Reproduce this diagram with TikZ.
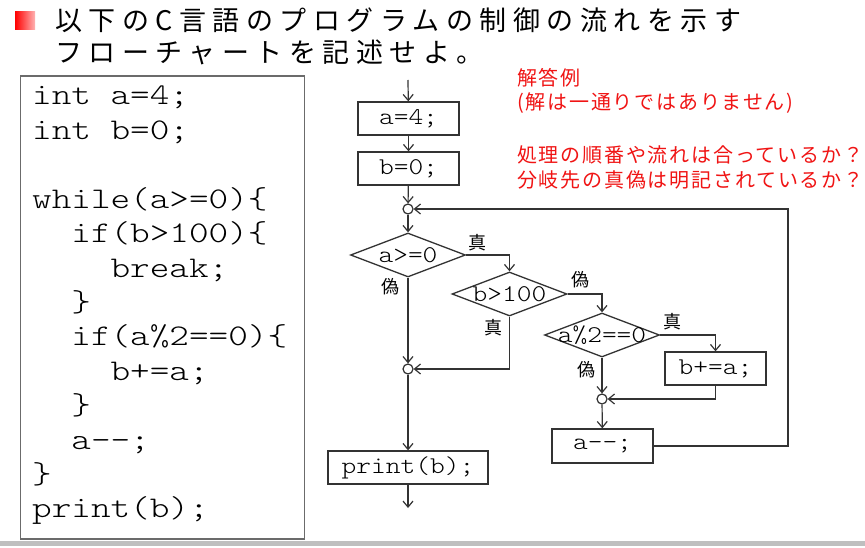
\documentclass[tikz,border=0pt]{standalone}
\usepackage{fontspec}
\newfontfamily\jp{Noto Sans CJK JP}
\newfontfamily\jptitle{Noto Sans CJK JP}[LetterSpace=24]
\newfontfamily\jpmemo{Noto Sans CJK JP}[LetterSpace=9]
\newfontfamily\codefont{lmmonolt10-regular.otf}[FakeStretch=1.245]
\newfontfamily\flowfont{lmmonolt10-regular.otf}[FakeStretch=1.17]
\newcommand\gtc{\makebox[\fontcharwd\font`x][c]{>}}
\newcommand\chsp{\phantom{x}}
\usetikzlibrary{positioning, arrows.meta, shapes.geometric}
\definecolor{ink}{gray}{0.2}
\definecolor{frame}{gray}{0.42}
\definecolor{note}{RGB}{240,20,20}

\begin{document}
\begin{tikzpicture}[
  x=1pt, y=-1pt,
  ttx/.style={font=\flowfont\fontsize{24}{26}\selectfont},
  code/.style={font=\codefont\fontsize{30}{34}\selectfont,
               inner sep=0pt, anchor=base west},
  proc/.style={draw=ink, line width=1.3pt, minimum width=101pt, minimum height=33pt,
               inner sep=0pt, ttx},
  dec/.style={diamond, draw=ink, line width=1.3pt, minimum width=115pt,
              minimum height=44pt, inner sep=0pt},
  junc/.style={circle, draw=ink, line width=1.2pt, fill=white, minimum size=10pt,
               inner sep=0pt},
  tf/.style={font=\jp\fontsize{18}{20}\selectfont, inner sep=0pt},
  title/.style={font=\jptitle\fontsize{27}{30}\selectfont, inner sep=0pt, anchor=west},
  memo/.style={font=\jpmemo\fontsize{20}{24}\selectfont, text=note, inner sep=0pt,
               anchor=west},
  ar/.style={-{Straight Barb[length=6pt,width=10pt]}, draw=ink, line width=1.2pt},
]
\useasboundingbox (0,0) rectangle (865,548);
\fill[white] (0,0) rectangle (865,548);

% title
\fill[left color=red, right color=red!30] (15,12) rectangle (35,30);
\node[title] (t1) at (55,20) {以下のC言語のプログラムの制御の流れを示す};
\node[title] (t2) at (55,52) {フローチャートを記述せよ。};

% source code
\node[draw=frame, line width=1.5pt, minimum width=284pt, minimum height=463pt]
  (codebox) at (162.5,307.5) {};
\foreach \t [count=\i] in {int\chsp a=4;, int\chsp b=0;, {}, while(a\gtc=0)\{,
    \chsp\chsp if(b\gtc 100)\{, \chsp\chsp\chsp\chsp break;, \chsp\chsp\},
    \chsp\chsp if(a\%2==0)\{, \chsp\chsp\chsp\chsp b+=a;, \chsp\chsp\},
    \chsp\chsp a-{}-;, \}, print(b);}
  \node[code] (ln\i) at (32,{105+34.4*(\i-1)}) {\t};

% notes
\node[memo] (m1) at (517,78)  {解答例};
\node[memo] (m2) at (517,103) {(解は一通りではありません)};
\node[memo] (m3) at (517,155) {処理の順番や流れは合っているか？};
\node[memo] (m4) at (517,180) {分岐先の真偽は明記されているか？};

% flowchart
\coordinate (in) at (408,80);
\node[proc] (a4) at (408.5,118.5) {a=4;};
\node[proc] (b0) at (408.5,168.5) {b=0;};
\node[junc] (j1) at (408,209) {};
\node[dec, label={[ttx]center:a\gtc=0}] (d1) at (408,255) {};
\node[dec, label={[ttx]center:b\gtc 100}] (d2) at (509.5,294) {};
\node[dec, label={[ttx]center:a\%2==0}] (d3) at (602,335) {};
\node[proc] (bpa) at (715.5,368.5) {b+=a;};
\node[junc] (j2) at (602,399) {};
\node[proc, minimum height=34pt] (dec) at (602.5,446) {a-{}-;};
\node[junc] (j3) at (408,369) {};
\node[proc, minimum width=160pt] (pr) at (408,467.5) {print(b);};
\coordinate (out) at (408,508);
\coordinate (back) at (788,446);

\node[tf] (d1t) at (477,243) {真};
\node[tf] (d1f) at (390,287) {偽};
\node[tf] (d2f) at (580,280) {偽};
\node[tf] (d2t) at (493,328) {真};
\node[tf] (d3t) at (672,322) {真};
\node[tf] (d3f) at (586,370) {偽};

\draw[ar] (in) -- (a4);
\draw[ar] (a4) -- (b0);
\draw[ar] (b0) -- (j1);
\draw[ar] (j1) -- (d1);
\draw[ar] (d1.east) -| (d2.north);
\draw[ar] (d2.east) -| (d3.north);
\draw[ar] (d3.east) -| (bpa.north);
\draw[ar] (d3.south) -- (j2);
\draw[ar] (bpa.south) |- (j2.east);
\draw[ar] (j2) -- (dec);
\draw[ar] (dec.east) -- (back) |- (j1.east);
\draw[ar] (d1.south) -- (j3);
\draw[ar] (d2.south) |- (j3.east);
\draw[ar] (j3) -- (pr);
\draw[ar] (pr) -- (out);

% slide edge
\fill[black!25] (0,541) rectangle (865,546);
\end{tikzpicture}
\end{document}
